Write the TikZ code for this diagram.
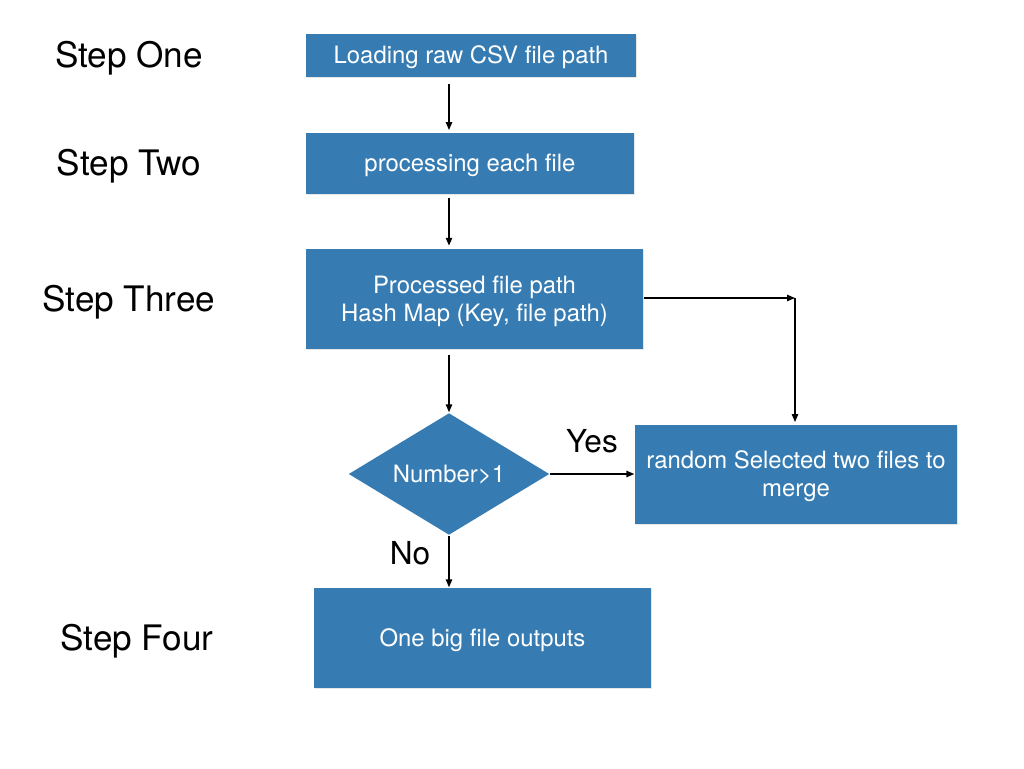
\documentclass[tikz,border=0pt]{standalone}
\usepackage{fontspec}
\setmainfont{TeX Gyre Heros}
\usepackage{xcolor}
\usetikzlibrary{shapes.geometric,arrows.meta,shadows}
\definecolor{boxblue}{RGB}{54,124,178}

\begin{document}
\begin{tikzpicture}[x=0.02cm,y=-0.02cm,
    box/.style={rectangle, fill=boxblue, text=white, font=\fontsize{13.6}{16}\selectfont,
        align=center, inner sep=0pt, text height=9.8pt, text depth=0pt,
        drop shadow={opacity=0.2, shadow xshift=0.6pt, shadow yshift=-0.8pt}},
    twoline/.style={text height=25.8pt},
    decision/.style={diamond, aspect=1.65, fill=boxblue, text=white, font=\fontsize{13.6}{16}\selectfont,
        inner sep=0pt, text height=9.8pt, text depth=0pt, minimum width=4.02cm, minimum height=2.44cm},
    steplabel/.style={font=\fontsize{20}{24}\selectfont, text height=14.4pt, text depth=0pt},
    answer/.style={font=\fontsize{18}{22}\selectfont, text height=13pt, text depth=0pt},
    >={Triangle[length=4.5pt,width=3.6pt]}, thick]

    % Fix the page size
    \useasboundingbox (0,0) rectangle (1024,768);

    % Step labels
    \node[steplabel] (one) at (129,55) {Step One};
    \node[steplabel] (two) at (129,163) {Step Two};
    \node[steplabel] (three) at (129,299) {Step Three};
    \node[steplabel] (four) at (137,638) {Step Four};

    % Draw the boxes
    \node[box, minimum width=6.6cm, minimum height=0.86cm] (load) at (471,55) {Loading raw CSV file path};
    \node[box, minimum width=6.56cm, minimum height=1.22cm] (process) at (470,163) {processing each file};
    \node[box, twoline, minimum width=6.74cm, minimum height=2cm] (hashmap) at (474.5,299) {Processed file path\\Hash Map (Key, file path)};
    \node[decision] (number) at (449,474) {Number>1};
    \node[box, twoline, minimum width=6.44cm, minimum height=1.98cm] (merge) at (796,474) {random Selected two files to\\merge};
    \node[box, minimum width=6.74cm, minimum height=2cm] (output) at (482.5,638) {One big file outputs};

    % Corner of the loop back
    \coordinate (turn) at (795,298);

    % Arrows
    \draw[->, shorten <=4pt, shorten >=1pt] (load.south -| number) -- (process.north -| number);
    \draw[->, shorten <=2pt, shorten >=1.5pt] (process.south -| number) -- (hashmap.north -| number);
    \draw[->, shorten <=3pt] (hashmap.south -| number) -- (number.north);
    \draw[->] (number.east) -- (merge.west);
    \draw[->] (number.south) -- (output.north -| number);
    \draw[->] (hashmap.east |- turn) -- (turn);
    \draw[->, shorten >=1pt] (turn) -- (merge.north -| turn);

    % Labels for yes and no
    \node[answer] (yes) at (592,441) {Yes};
    \node[answer] (no) at (410,553) {No};
\end{tikzpicture}
\end{document}
